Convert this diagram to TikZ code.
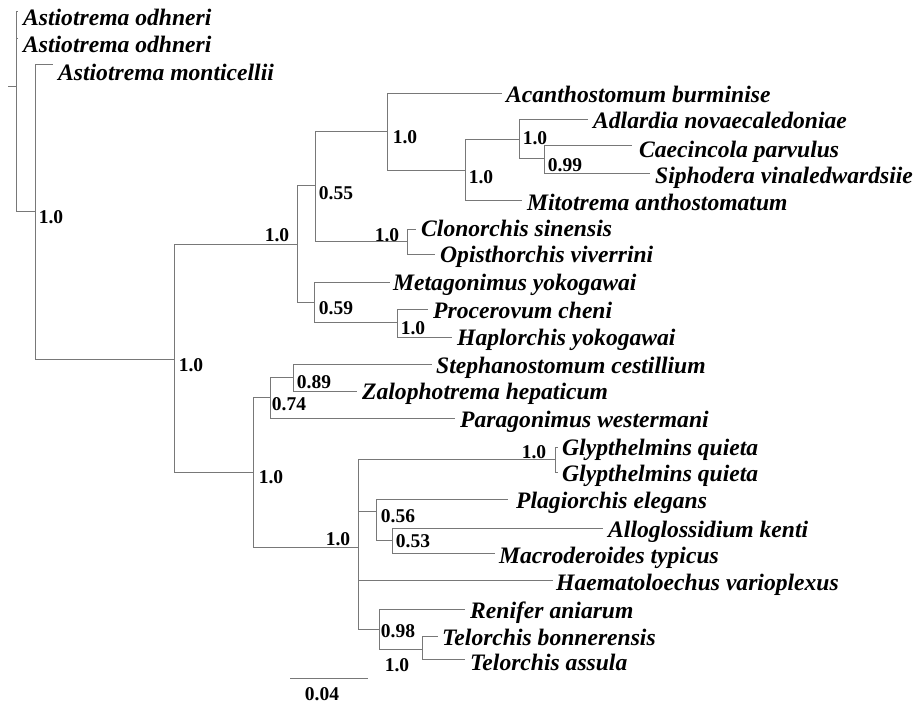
\documentclass[tikz,border=0pt]{standalone}
\usepackage{fontspec}
\setmainfont{Liberation Serif}
\definecolor{branch}{RGB}{120,120,120}
\tikzset{
  br/.style={draw=branch, line width=1pt},
  sp/.style={anchor=base west, inner sep=0pt, font=\fontsize{23.6}{27}\selectfont\bfseries\itshape},
  sup/.style={anchor=center, inner sep=0pt, font=\fontsize{19.5}{23}\selectfont\bfseries},
}
\begin{document}
\begin{tikzpicture}[x=1pt,y=-1pt]
\useasboundingbox (0,0) rectangle (918,704);
% internal nodes
\coordinate (stub) at (8,86);
\coordinate (root) at (16,86);
\coordinate (A) at (35,211);
\coordinate (B) at (174,359);
\coordinate (C) at (297,244);
\coordinate (D) at (315,185);
\coordinate (E) at (387,131);
\coordinate (F) at (465,170);
\coordinate (G) at (519,139);
\coordinate (H) at (544,158);
\coordinate (I) at (407,241);
\coordinate (J) at (314,302);
\coordinate (K) at (397,322);
\coordinate (L) at (253,472);
\coordinate (M) at (270,397);
\coordinate (N) at (293,377);
\coordinate (O) at (358,547);
\coordinate (P) at (555,459);
\coordinate (Q) at (376,511);
\coordinate (R) at (392,540);
\coordinate (S) at (379,629);
\coordinate (T) at (422,649);
% tips
\coordinate (od1) at (18,11);
\coordinate (od2) at (18,38);
\coordinate (mont) at (53,64);
\coordinate (acan) at (502,93);
\coordinate (adl) at (588,119);
\coordinate (caec) at (632,145);
\coordinate (siph) at (650,173);
\coordinate (mito) at (522,200);
\coordinate (clon) at (416,229);
\coordinate (opis) at (435,254);
\coordinate (meta) at (390,282);
\coordinate (proc) at (428,309);
\coordinate (hapl) at (452,337);
\coordinate (steph) at (432,364);
\coordinate (zalo) at (357,391);
\coordinate (parag) at (455,418);
\coordinate (gly1) at (558,447);
\coordinate (gly2) at (558,472);
\coordinate (plag) at (508,499);
\coordinate (allo) at (603,528);
\coordinate (macro) at (495,553);
\coordinate (haem) at (553,580);
\coordinate (reni) at (465,609);
\coordinate (bonn) at (438,636);
\coordinate (assu) at (465,659);
\coordinate (sb1) at (290,678);
\coordinate (sb2) at (368,678);
% branches
\draw[br] (stub) -- (root);
\foreach \p/\c in {root/od1, root/od2, root/A, A/mont, A/B, B/C, B/L,
  C/D, C/J, D/E, D/I, E/acan, E/F, F/G, F/mito, G/adl, G/H, H/caec, H/siph,
  I/clon, I/opis, J/meta, J/K, K/proc, K/hapl,
  L/M, L/O, M/N, M/parag, N/steph, N/zalo,
  O/P, O/Q, O/haem, O/S, P/gly1, P/gly2, Q/plag, Q/R, R/allo, R/macro,
  S/reni, S/T, T/bonn, T/assu}
  \draw[br] (\p) |- (\c);
\draw[br] (sb1) -- (sb2);
% species
\node[sp] (t1) at (23,25) {Astiotrema odhneri};
\node[sp] (t2) at (23,52) {Astiotrema odhneri};
\node[sp] (t3) at (58,80) {Astiotrema monticellii};
\node[sp] (t4) at (506,102) {Acanthostomum burminise};
\node[sp] (t5) at (593,128) {Adlardia novaecaledoniae};
\node[sp] (t6) at (639,157) {Caecincola parvulus};
\node[sp] (t7) at (655,183) {Siphodera vinaledwardsiie};
\node[sp] (t8) at (527,210) {Mitotrema anthostomatum};
\node[sp] (t9) at (421,236) {Clonorchis sinensis};
\node[sp] (t10) at (440,262) {Opisthorchis viverrini};
\node[sp] (t11) at (393,290) {Metagonimus yokogawai};
\node[sp] (t12) at (433,318) {Procerovum cheni};
\node[sp] (t13) at (457,345) {Haplorchis yokogawai};
\node[sp] (t14) at (436,373) {Stephanostomum cestillium};
\node[sp] (t15) at (362,399) {Zalophotrema hepaticum};
\node[sp] (t16) at (460,427) {Paragonimus westermani};
\node[sp] (t17) at (562,455) {Glypthelmins quieta};
\node[sp] (t18) at (562,481) {Glypthelmins quieta};
\node[sp] (t19) at (516,508) {Plagiorchis elegans};
\node[sp] (t20) at (608,537) {Alloglossidium kenti};
\node[sp] (t21) at (499,563) {Macroderoides typicus};
\node[sp] (t22) at (556,590) {Haematoloechus varioplexus};
\node[sp] (t23) at (470,618) {Renifer aniarum};
\node[sp] (t24) at (442,645) {Telorchis bonnerensis};
\node[sp] (t25) at (470,670) {Telorchis assula};
% supports
\node[sup] (s1) at (51,217) {1.0};
\node[sup] (s2) at (191,365) {1.0};
\node[sup] (s3) at (277,235) {1.0};
\node[sup] (s4) at (336,193) {0.55};
\node[sup] (s5) at (405,137) {1.0};
\node[sup] (s6) at (481,177) {1.0};
\node[sup] (s7) at (535,138) {1.0};
\node[sup] (s8) at (565,165) {0.99};
\node[sup] (s9) at (387,235) {1.0};
\node[sup] (s10) at (336,308) {0.59};
\node[sup] (s11) at (413,328) {1.0};
\node[sup] (s12) at (314,382) {0.89};
\node[sup] (s13) at (289,404) {0.74};
\node[sup] (s14) at (271,477) {1.0};
\node[sup] (s15) at (338,539) {1.0};
\node[sup] (s16) at (534,452) {1.0};
\node[sup] (s17) at (398,516) {0.56};
\node[sup] (s18) at (413,541) {0.53};
\node[sup] (s19) at (398,631) {0.98};
\node[sup] (s20) at (397,665) {1.0};
\node[sup] (s21) at (322,694) {0.04};
\end{tikzpicture}
\end{document}
